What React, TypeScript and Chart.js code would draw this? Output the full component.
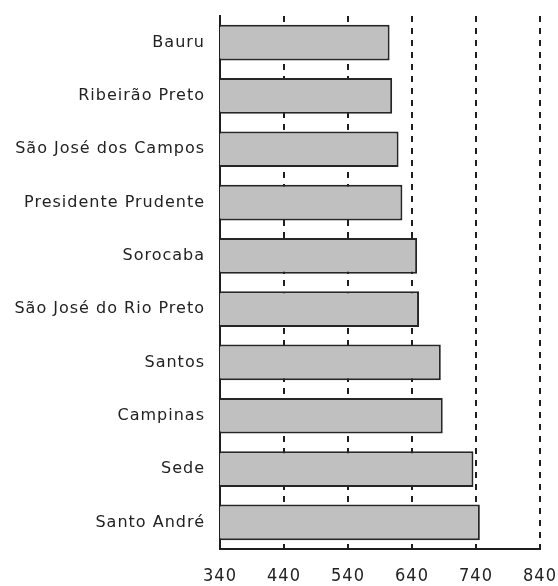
import React, { useEffect, useRef } from "react";
import { Chart, registerables } from "chart.js";

Chart.register(...registerables);

const categories = [
  "Bauru",
  "Ribeirão Preto",
  "São José dos Campos",
  "Presidente Prudente",
  "Sorocaba",
  "São José do Rio Preto",
  "Santos",
  "Campinas",
  "Sede",
  "Santo André",
];
const values = [605, 609, 619, 625, 648, 651, 685, 688, 736, 746];
const xMin = 340;
const xMax = 840;
const xStep = 100;

const spacingPlugin = {
  id: "letterSpacing",
  beforeLayout(chart: any) {
    (chart.ctx as any).letterSpacing = "1px";
  },
  beforeDraw(chart: any) {
    (chart.ctx as any).letterSpacing = "1px";
  },
};

export default function App() {
  const ref = useRef<HTMLCanvasElement | null>(null);
  useEffect(() => {
    if (!ref.current) return;
    const chart = new Chart(ref.current, {
      type: "bar",
      data: {
        labels: categories,
        datasets: [
          {
            data: values,
            backgroundColor: "#c0c0c0",
            borderColor: "#262626",
            borderWidth: 2,
            borderSkipped: false,
            barPercentage: 0.67,
            categoryPercentage: 1,
          },
        ],
      },
      plugins: [spacingPlugin],
      options: {
        indexAxis: "y",
        animation: false,
        responsive: false,
        maintainAspectRatio: false,
        layout: { padding: { top: 16, right: 18, bottom: 0, left: 0 } },
        plugins: {
          legend: { display: false },
          tooltip: { enabled: false },
          title: { display: false },
        },
        scales: {
          x: {
            type: "linear",
            min: xMin,
            max: xMax,
            afterFit: (s: any) => {
              s.height = 37;
              s.paddingLeft = 0;
              s.paddingRight = 0;
            },
            ticks: {
              stepSize: xStep,
              padding: 17,
              color: "#222",
              font: { family: "'DejaVu Sans Condensed', sans-serif", size: 18 },
            },
            grid: {
              display: true,
              color: "#1e1e1e",
              lineWidth: 2,
              drawTicks: false,
              drawOnChartArea: true,
            },
            border: { display: true, color: "#1e1e1e", width: 2, dash: [6, 6] },
          },
          y: {
            type: "category",
            afterFit: (s: any) => {
              s.width = 220;
              s.paddingTop = 0;
              s.paddingBottom = 0;
            },
            ticks: {
              padding: 15,
              color: "#222",
              font: { family: "'DejaVu Sans', sans-serif", size: 16 },
            },
            grid: { display: false, drawTicks: false },
            border: { display: true, color: "#1e1e1e", width: 2 },
          },
        },
      },
    });
    return () => chart.destroy();
  }, []);
  return (
    <div style={{ position: "fixed", left: 0, top: 0, width: 558, height: 586, background: "#fff" }}>
      <canvas ref={ref} width={558} height={586} style={{ width: 558, height: 586, display: "block" }} />
    </div>
  );
}
